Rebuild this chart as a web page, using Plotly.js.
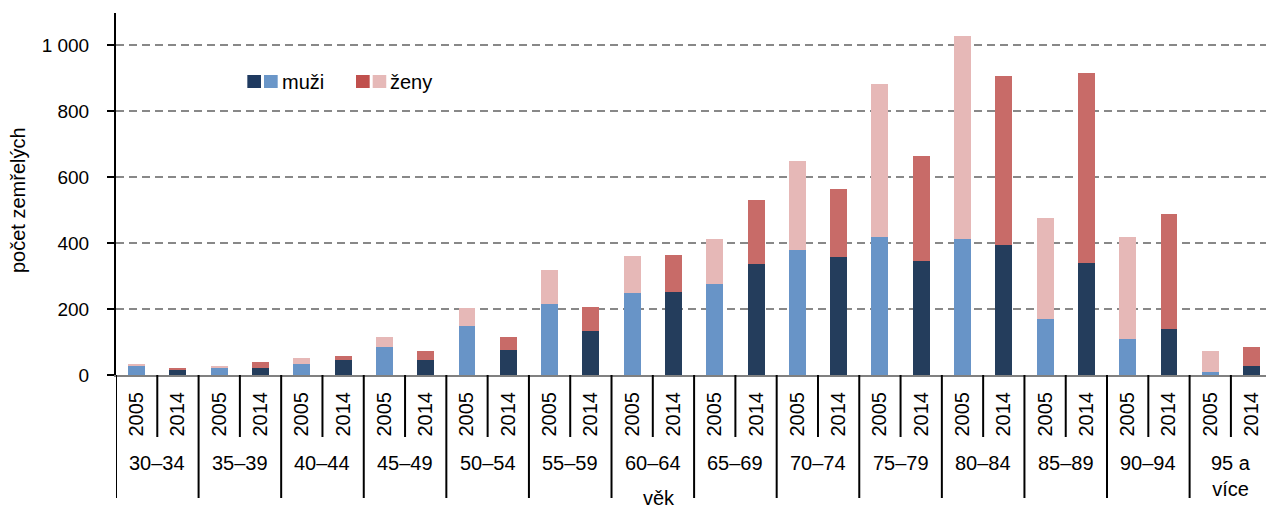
<!DOCTYPE html>
<html>
<head>
<meta charset="utf-8">
<script src="https://cdn.plot.ly/plotly-3.0.1.min.js"></script>
<style>html,body{margin:0;padding:0;background:#fff;}#chart{width:1266px;height:511px;}</style>
</head>
<body>
<div id="chart"></div>
<script>
// ---- data ----
const ageGroups = ["30–34","35–39","40–44","45–49","50–54","55–59","60–64","65–69","70–74","75–79","80–84","85–89","90–94","95 a<br>více"];
const years = ["2005","2014"];
const muzi2005 = [28,21,33,85,150,214,248,277,378,419,413,171,108,8];
const zeny2005 = [5,6,18,30,52,106,112,136,270,464,616,306,311,64];
const muzi2014 = [15,21,45,44,77,132,253,338,359,347,395,341,141,26];
const zeny2014 = [6,18,12,30,37,73,112,194,206,318,513,576,348,60];
const yTickVals = [0,200,400,600,800,1000];
const yTickText = ["0","200","400","600","800","1 000"];
const legendLabels = ["muži","ženy"];

// ---- styling ----
const C = {
  m05:"#6894C7", z05:"#E6B8B7", m14:"#243D5C", z14:"#C86B68",
  lm14:"#1F3A60", lm05:"#6A96C8", lz14:"#C0504D", lz05:"#E6B9B8"
};
const FONT = "Liberation Sans, Arial, sans-serif";

const cats = [], ticktext = [], muziVals = [], zenyVals = [], muziCols = [], zenyCols = [];
ageGroups.forEach((g, i) => {
  years.forEach((y, j) => {
    cats.push(g + " " + y);
    ticktext.push(y);
    muziVals.push(j === 0 ? muzi2005[i] : muzi2014[i]);
    zenyVals.push(j === 0 ? zeny2005[i] : zeny2014[i]);
    muziCols.push(j === 0 ? C.m05 : C.m14);
    zenyCols.push(j === 0 ? C.z05 : C.z14);
  });
});

const traces = [
  {type:"bar", x:cats, y:muziVals, name:legendLabels[0], marker:{color:muziCols, line:{width:0}}, showlegend:false, hoverinfo:"x+y"},
  {type:"bar", x:cats, y:zenyVals, name:legendLabels[1], marker:{color:zenyCols, line:{width:0}}, showlegend:false, hoverinfo:"x+y"}
];

const PH = 362; // plot height px
const px2py = p => -p / PH; // pixels below axis -> paper y

const shapes = [];
// inner (year) dividers
for (let i = 0; i < ageGroups.length; i++) {
  shapes.push({type:"line", xref:"x", yref:"paper", x0:2*i+0.5, x1:2*i+0.5, y0:0, y1:px2py(62), line:{color:"#000", width:2}});
}
// group dividers
for (let i = 0; i < ageGroups.length; i++) {
  shapes.push({type:"line", xref:"x", yref:"paper", x0:2*i-0.5, x1:2*i-0.5, y0:0, y1:px2py(123), line:{color:"#000", width:2}});
}
// legend swatches
const sw = (x0, x1, col) => ({type:"rect", xref:"paper", yref:"paper", x0:x0, x1:x1, y0:(375-88)/PH, y1:(375-75)/PH, fillcolor:col, line:{width:0}});
shapes.push(sw(0.1142,0.1261,C.lm14), sw(0.1287,0.1406,C.lm05), sw(0.2087,0.2206,C.lz14), sw(0.2232,0.2350,C.lz05));

const annotations = [];
ageGroups.forEach((g, i) => {
  annotations.push({xref:"x", yref:"paper", x:2*i+0.5, y:px2py(75), yanchor:"top", xanchor:"center", text:g, showarrow:false, font:{family:FONT, size:20, color:"#000"}});
});
annotations.push({xref:"paper", yref:"paper", x:0.1426, y:(375-82)/PH, xanchor:"left", yanchor:"middle", text:legendLabels[0], showarrow:false, font:{family:FONT, size:20, color:"#000"}});
annotations.push({xref:"paper", yref:"paper", x:0.2365, y:(375-82)/PH, xanchor:"left", yanchor:"middle", text:legendLabels[1], showarrow:false, font:{family:FONT, size:20, color:"#000"}});
annotations.push({xref:"paper", yref:"paper", x:(659-116)/1150, y:px2py(136), xanchor:"center", yanchor:"bottom", text:"věk", showarrow:false, font:{family:FONT, size:20, color:"#000"}});
annotations.push({xref:"paper", yref:"paper", x:(18-116)/1150, y:(375-200)/PH, xanchor:"center", yanchor:"middle", textangle:-90, text:"počet zemřelých", showarrow:false, font:{family:FONT, size:20, color:"#000"}});

const layout = {
  width:1266, height:511,
  margin:{l:116, r:0, t:13, b:136, pad:0},
  paper_bgcolor:"#fff", plot_bgcolor:"#fff",
  barmode:"stack", bargap:0.59,
  showlegend:false,
  font:{family:FONT, size:20, color:"#000"},
  xaxis:{
    type:"category", range:[-0.5, 27.35],
    tickvals:cats, ticktext:ticktext, tickangle:-90,
    ticks:"outside", ticklen:7, tickcolor:"rgba(0,0,0,0)",
    tickfont:{family:FONT, size:20, color:"#000"},
    showline:true, linecolor:"#808080", linewidth:2,
    showgrid:false, zeroline:false, fixedrange:true
  },
  yaxis:{
    range:[0,1098],
    tickvals:yTickVals, ticktext:yTickText,
    ticks:"outside", ticklen:7, tickwidth:2, tickcolor:"#000",
    ticklabelstandoff:14,
    tickfont:{family:FONT, size:19, color:"#000"},
    showline:true, linecolor:"#000", linewidth:2,
    showgrid:true, gridcolor:"#888", gridwidth:2, griddash:"8px,5px",
    zeroline:false, fixedrange:true
  },
  shapes:shapes,
  annotations:annotations
};

Plotly.newPlot("chart", traces, layout, {displayModeBar:false, staticPlot:true});
</script>
</body>
</html>
